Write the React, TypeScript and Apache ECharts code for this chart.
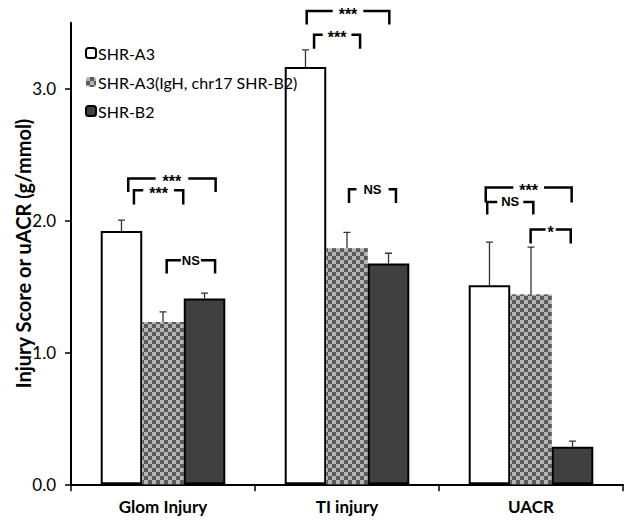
import React, { useEffect, useRef } from "react";
import * as echarts from "echarts";

const categories = ["Glom Injury", "TI injury", "UACR"];
const seriesNames = ["SHR-A3", "SHR-A3(IgH, chr17 SHR-B2)", "SHR-B2"];
const shrA3 = [1.92, 3.164, 1.51];
const shrA3Sem = [0.083, 0.13, 0.326];
const congenic = [1.231, 1.79, 1.439];
const congenicSem = [0.077, 0.12, 0.36];
const shrB2 = [1.409, 1.674, 0.285];
const shrB2Sem = [0.04, 0.078, 0.043];
const yTicks = [0, 1, 2, 3];
// [category index, from (offset in category widths), to, top value, leg bottom value]
const bracketSpans = [
  [0, -0.189, 0.286, 2.318, 2.217],
  [0, -0.158, 0.11, 2.23, 2.121],
  [0, 0.02, 0.283, 1.699, 1.598],
  [1, -0.219, 0.23, 3.588, 3.487],
  [1, -0.179, 0.071, 3.409, 3.303],
  [1, 0.011, 0.266, 2.237, 2.133],
  [2, -0.246, 0.221, 2.25, 2.136],
  [2, -0.238, 0.0125, 2.141, 2.045],
  [2, -0.002, 0.216, 1.932, 1.826],
];
const bracketLabels = ["***", "***", "NS", "***", "***", "NS", "***", "NS", "*"];

// styling (gap around the bracket labels)
const labelPads = [7, 6, 1, 6, 5, 7, 6, 4, 2];
const FONT = "Lato, 'Open Sans', sans-serif";
const BAR_GAP = 0.323;

export default function App() {
  const ref = useRef<HTMLDivElement>(null);
  useEffect(() => {
    if (!ref.current) return;
    const chart = echarts.init(ref.current, undefined, { renderer: "svg" });

    const barShare = (1 - BAR_GAP) / 3;
    const groups = [
      [shrA3, shrA3Sem],
      [congenic, congenicSem],
      [shrB2, shrB2Sem],
    ];
    const errData: number[][] = [];
    groups.forEach(([vals, sems], k) => {
      vals.forEach((v, i) => errData.push([i + (k - 1) * barShare, v, v + sems[i]]));
    });

    const option: any = {
      animation: false,
      backgroundColor: "#fff",
      grid: { left: 71, right: 10, top: 22.7, bottom: 41.7, containLabel: false, outerBoundsMode: "none" },
      legend: {
        orient: "vertical",
        left: 80,
        top: 40,
        itemWidth: 10,
        itemHeight: 10,
        itemGap: 13,
        textStyle: { fontFamily: FONT, fontSize: 16, color: "#000", padding: [0, 0, 0, -3] },
        data: seriesNames,
      },
      xAxis: [
        {
          type: "category",
          data: categories,
          axisLine: { onZero: false, lineStyle: { color: "#000", width: 2 } },
          axisTick: { show: true, length: 7, inside: false, lineStyle: { color: "#000", width: 1.5 } },
          axisLabel: { fontFamily: FONT, fontWeight: "bold", fontSize: 17, color: "#000", margin: 14 },
        },
        {
          type: "value",
          min: -0.5,
          max: 2.5,
          show: false,
          axisLine: { show: false, onZero: false },
          splitLine: { show: false },
        },
      ],
      yAxis: {
        type: "value",
        min: 0,
        max: 3.5,
        name: "Injury Score or uACR (g/mmol)",
        nameLocation: "middle",
        nameGap: 38,
        nameMoveOverlap: false,
        nameTextStyle: { fontFamily: FONT, fontWeight: "bold", fontSize: 20, color: "#000" },
        splitLine: { show: false },
        axisLine: { show: true, onZero: false, lineStyle: { color: "#000", width: 2 } },
        axisTick: { show: true, length: 6, lineStyle: { color: "#000", width: 1.5 }, customValues: yTicks },
        axisLabel: {
          fontFamily: FONT,
          fontSize: 17,
          color: "#000",
          margin: 15,
          customValues: yTicks,
          formatter: (v: number) => v.toFixed(1),
        },
      },
      series: [
        {
          name: seriesNames[0],
          type: "bar",
          data: shrA3,
          barGap: "0%",
          barCategoryGap: BAR_GAP * 100 + "%",
          itemStyle: { color: "#fff", borderColor: "#000", borderWidth: 2 },
        },
        {
          name: seriesNames[1],
          type: "bar",
          data: congenic,
          barGap: "0%",
          barCategoryGap: BAR_GAP * 100 + "%",
          itemStyle: {
            color: "#b4b4b4",
            decal: {
              symbol: "rect",
              symbolSize: 1,
              color: "#5a5a5a",
              dashArrayX: [[4, 4], [0, 4, 4, 0]],
              dashArrayY: [4, 0],
              rotation: 0,
            },
          },
        },
        {
          name: seriesNames[2],
          type: "bar",
          data: shrB2,
          barGap: "0%",
          barCategoryGap: BAR_GAP * 100 + "%",
          itemStyle: { color: "#404040", borderColor: "#000", borderWidth: 2 },
        },
        {
          type: "custom",
          xAxisIndex: 1,
          yAxisIndex: 0,
          silent: true,
          z: 5,
          data: errData,
          renderItem: (params: any, api: any) => {
            const p0 = api.coord([api.value(0), api.value(1)]);
            const p1 = api.coord([api.value(0), api.value(2)]);
            const x = p0[0];
            return {
              type: "polyline",
              shape: { points: [[x, p0[1]], [x, p1[1]], [x - 3.5, p1[1]], [x + 3.5, p1[1]]] },
              style: { stroke: "#333", lineWidth: 1.3, fill: null },
            };
          },
        },
        {
          type: "custom",
          xAxisIndex: 1,
          yAxisIndex: 0,
          silent: true,
          clip: false,
          z: 6,
          data: bracketSpans.map((s) => [s[0] + s[1], s[0] + s[2], s[3], s[4]]),
          renderItem: (params: any, api: any) => {
            const a = api.coord([api.value(0), api.value(2)]);
            const b = api.coord([api.value(1), api.value(2)]);
            const bot = api.coord([api.value(0), api.value(3)])[1];
            const label = bracketLabels[params.dataIndex];
            const star = label !== "NS";
            return {
              type: "group",
              children: [
                {
                  type: "polyline",
                  shape: { points: [[a[0], bot], [a[0], a[1]], [b[0], a[1]], [b[0], bot]] },
                  style: { stroke: "#000", lineWidth: 2.5, fill: null },
                },
                {
                  type: "text",
                  x: (a[0] + b[0]) / 2,
                  y: a[1] + (star ? 3 : 0),
                  style: {
                    text: label,
                    fontFamily: "'Liberation Sans', Arial, sans-serif",
                    fontWeight: "bold",
                    fontSize: star ? 16 : 13,
                    fill: "#000",
                    align: "center",
                    verticalAlign: "middle",
                    backgroundColor: "#fff",
                    padding: [0, labelPads[params.dataIndex]],
                  },
                },
              ],
            };
          },
        },
      ],
    };
    chart.setOption(option);
    return () => chart.dispose();
  }, []);
  return (
    <div
      ref={ref}
      style={{ position: "fixed", left: 0, top: 0, width: 633, height: 526, background: "#fff" }}
    />
  );
}
